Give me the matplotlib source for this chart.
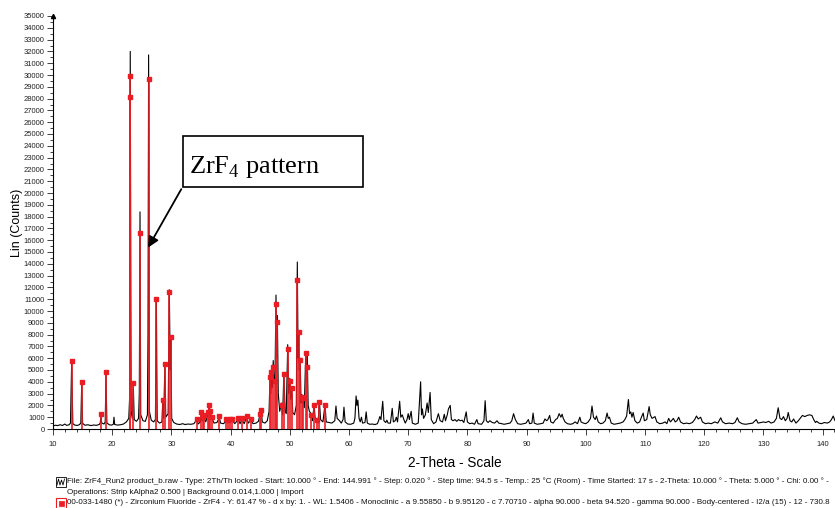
import matplotlib
matplotlib.use('Agg')
import matplotlib.pyplot as plt
from matplotlib.patches import Rectangle
from matplotlib.ticker import MultipleLocator
import numpy as np

plt.rcParams['font.family'] = ['Liberation Sans', 'DejaVu Sans']
plt.rcParams['mathtext.fontset'] = 'custom'
plt.rcParams['mathtext.rm'] = 'Liberation Serif'

trace = np.array([
    [10.0, 260], [10.4, 320], [10.8, 290], [11.2, 360], [11.6, 300], [12.0, 420],
    [12.3, 310], [12.7, 350], [12.95, 500], [13.15, 5600], [13.35, 450], [13.7, 330],
    [14.1, 300], [14.5, 380], [14.7, 520], [14.85, 3850], [15.0, 480], [15.4, 320],
    [15.9, 360], [16.4, 290], [16.9, 340], [17.3, 310], [17.8, 380], [17.98, 500],
    [18.1, 1200], [18.22, 520], [18.6, 420], [18.82, 600], [18.95, 4700], [19.1, 520],
    [19.5, 360], [19.9, 330], [20.2, 400], [20.3, 1000], [20.42, 380], [20.9, 330],
    [21.4, 360], [21.9, 420], [22.4, 600], [22.8, 900], [22.93, 2500], [23.05, 32000],
    [23.2, 1500], [23.4, 900], [23.57, 3600], [23.72, 800], [24.1, 650], [24.45, 900],
    [24.58, 3000], [24.7, 18400], [24.82, 1200], [25.2, 700], [25.6, 650], [25.95, 1200],
    [26.05, 8000], [26.15, 31700], [26.28, 1500], [26.6, 750], [27.0, 600], [27.3, 800],
    [27.46, 11100], [27.6, 700], [28.0, 500], [28.4, 600], [28.55, 2500], [28.7, 900],
    [28.9, 5500], [29.05, 1000], [29.45, 1300], [29.65, 11800], [29.8, 5000], [29.9, 7800],
    [30.05, 900], [30.4, 550], [30.9, 420], [31.4, 380], [31.9, 450], [32.3, 380],
    [32.8, 420], [33.3, 400], [33.8, 450], [34.3, 800], [34.5, 420], [34.9, 600],
    [35.05, 1300], [35.2, 700], [35.5, 1000], [35.8, 600], [36.2, 1300], [36.4, 1900],
    [36.6, 1400], [36.85, 900], [37.2, 500], [37.7, 550], [38.1, 1000], [38.3, 500],
    [38.8, 450], [39.3, 700], [39.6, 750], [39.9, 700], [40.3, 750], [40.7, 450],
    [41.3, 800], [41.6, 450], [41.9, 800], [42.3, 450], [42.7, 1000], [43.0, 500],
    [43.4, 750], [43.8, 450], [44.3, 500], [44.7, 650], [45.0, 1300], [45.15, 1700],
    [45.35, 600], [45.8, 500], [46.2, 700], [46.5, 1500], [46.66, 4500], [46.8, 3000],
    [46.9, 5000], [47.05, 3500], [47.2, 5800], [47.35, 4000], [47.5, 4200], [47.67, 11350],
    [47.8, 6000], [47.9, 9600], [48.05, 3000], [48.3, 1500], [48.6, 2200], [48.8, 1200],
    [49.0, 4800], [49.2, 1500], [49.4, 1300], [49.65, 7150], [49.8, 3000], [50.0, 4300],
    [50.15, 2500], [50.3, 3600], [50.5, 1400], [50.8, 1200], [51.1, 2000], [51.27, 14150],
    [51.4, 6000], [51.5, 8300], [51.6, 5000], [51.75, 6000], [51.9, 2200], [52.05, 2900],
    [52.25, 2700], [52.45, 1800], [52.7, 6500], [52.82, 4000], [52.95, 6300], [53.1, 2000],
    [53.3, 1500], [53.6, 1300], [53.85, 700], [54.1, 2100], [54.3, 800], [54.6, 900],
    [54.8, 700], [55.0, 2400], [55.2, 800], [55.6, 600], [55.95, 2100], [56.15, 600],
    [56.6, 550], [57.1, 500], [57.6, 700], [57.8, 1950], [58.0, 900], [58.4, 700],
    [58.7, 500], [59.0, 800], [59.15, 1850], [59.35, 600], [59.8, 420], [60.3, 400],
    [60.8, 500], [61.0, 900], [61.2, 2800], [61.35, 2000], [61.5, 2450], [61.7, 900],
    [61.9, 600], [62.1, 1000], [62.3, 500], [62.7, 550], [62.9, 1450], [63.1, 500],
    [63.5, 400], [63.9, 420], [64.4, 380], [64.8, 450], [65.0, 700], [65.2, 1050],
    [65.4, 800], [65.7, 2350], [65.9, 700], [66.2, 550], [66.4, 750], [66.6, 500],
    [67.0, 500], [67.3, 1750], [67.5, 600], [67.8, 700], [68.0, 1000], [68.2, 600],
    [68.56, 2350], [68.75, 1000], [69.0, 1200], [69.2, 900], [69.5, 500], [69.8, 800],
    [70.0, 1300], [70.2, 800], [70.5, 1500], [70.7, 500], [71.2, 400], [71.7, 500],
    [72.1, 4000], [72.25, 1200], [72.4, 1700], [72.6, 900], [72.9, 1200], [73.2, 2200],
    [73.4, 1400], [73.7, 3100], [73.9, 800], [74.3, 450], [74.7, 600], [75.1, 1300],
    [75.4, 700], [75.8, 600], [76.1, 1250], [76.3, 700], [76.6, 1200], [76.8, 1700],
    [77.1, 2000], [77.3, 800], [77.6, 700], [77.9, 800], [78.2, 650], [78.5, 800],
    [78.8, 700], [79.1, 750], [79.4, 550], [79.8, 1450], [80.0, 600], [80.4, 450],
    [80.8, 500], [81.2, 400], [81.6, 800], [81.8, 450], [82.4, 400], [82.8, 700],
    [83.0, 2400], [83.2, 700], [83.5, 550], [83.8, 700], [84.2, 550], [84.6, 500],
    [85.0, 700], [85.3, 500], [85.8, 450], [86.2, 400], [86.7, 450], [87.2, 500],
    [87.5, 700], [87.8, 1300], [88.1, 800], [88.5, 450], [89.0, 400], [89.5, 450],
    [89.9, 500], [90.3, 800], [90.5, 450], [90.9, 500], [91.1, 1350], [91.3, 500],
    [91.8, 400], [92.4, 450], [92.8, 500], [93.1, 850], [93.4, 700], [93.6, 800],
    [93.9, 1150], [94.1, 600], [94.5, 500], [94.9, 800], [95.2, 900], [95.5, 1300],
    [95.8, 1000], [96.0, 1250], [96.2, 900], [96.5, 600], [96.9, 450], [97.4, 400],
    [97.8, 450], [98.2, 600], [98.6, 450], [99.0, 1000], [99.2, 600], [99.6, 500],
    [100.0, 450], [100.4, 600], [100.8, 900], [101.05, 1950], [101.3, 1000], [101.6, 800],
    [101.8, 1100], [102.1, 600], [102.5, 450], [102.9, 500], [103.3, 700], [103.6, 1350],
    [103.8, 900], [104.0, 1000], [104.3, 500], [104.8, 400], [105.3, 450], [105.8, 500],
    [106.3, 600], [106.6, 800], [106.9, 1100], [107.2, 2500], [107.4, 1300], [107.6, 1450],
    [107.8, 1000], [108.0, 1400], [108.3, 700], [108.7, 500], [109.1, 600], [109.4, 1000],
    [109.7, 1350], [109.9, 700], [110.3, 800], [110.7, 1900], [110.9, 1200], [111.2, 900],
    [111.7, 1050], [112.0, 600], [112.5, 450], [113.0, 500], [113.4, 600], [113.7, 450],
    [114.0, 900], [114.3, 600], [114.8, 900], [115.1, 600], [115.4, 700], [115.7, 1000],
    [116.0, 600], [116.5, 450], [117.0, 500], [117.5, 450], [118.0, 550], [118.4, 800],
    [118.7, 1100], [119.0, 850], [119.4, 1000], [119.7, 600], [120.2, 450], [120.7, 500],
    [121.2, 450], [121.8, 600], [122.3, 500], [122.8, 950], [123.1, 600], [123.6, 450],
    [124.2, 500], [124.8, 450], [125.2, 550], [125.6, 950], [125.9, 600], [126.4, 450],
    [127.0, 400], [127.6, 450], [128.2, 500], [128.8, 800], [129.1, 500], [129.6, 550],
    [130.0, 600], [130.4, 550], [130.9, 650], [131.3, 500], [131.8, 600], [132.2, 900],
    [132.5, 1800], [132.8, 900], [133.1, 800], [133.4, 1050], [133.7, 700], [134.0, 900],
    [134.2, 1400], [134.5, 700], [134.8, 600], [135.1, 850], [135.5, 500], [135.9, 700],
    [136.3, 950], [136.6, 1150], [137.0, 1050], [137.4, 1150], [137.8, 1200], [138.2, 1150],
    [138.5, 800], [138.8, 550], [139.0, 650], [139.4, 500], [139.8, 450], [140.3, 550],
    [140.8, 500], [141.2, 600], [141.5, 800], [141.8, 1100], [142.1, 700], [142.5, 500],
])
two_theta = trace[:, 0]
counts = trace[:, 1]

# ZrF4 reference sticks (00-033-1480)
ref_pos = [13.15, 14.85, 18.1, 18.95, 23.05, 23.05, 23.57, 24.7, 26.15, 27.46,
           28.55, 28.9, 29.65, 29.9, 34.3, 35.05, 35.3, 35.5, 36.2, 36.4,
           36.6, 36.8, 38.1, 39.3, 39.6, 39.9, 40.3, 41.3, 41.9, 42.7,
           43.4, 45.0, 45.15, 46.66, 46.9, 47.2, 47.5, 47.67, 47.9, 48.6,
           49.0, 49.65, 50.0, 50.3, 51.27, 51.5, 51.75, 52.05, 52.25, 52.7,
           52.95, 53.6, 54.1, 54.6, 55.0, 55.95]
ref_int = [5750, 3950, 1250, 4800, 29900, 28150, 3900, 16650, 29650, 11050,
           2500, 5550, 11650, 7800, 850, 1400, 1050, 1150, 1450, 2000,
           1500, 1050, 1100, 850, 800, 850, 850, 900, 900, 1100,
           850, 1300, 1650, 4380, 4800, 5230, 4100, 10560, 9070, 2030,
           4630, 6750, 4090, 3500, 12600, 8190, 5850, 2740, 2600, 6470,
           5230, 1190, 2030, 790, 2320, 2030]

info_lines = [
    'File: ZrF4_Run2 product_b.raw - Type: 2Th/Th locked - Start: 10.000 \u00b0 - End: 144.991 \u00b0 - '
    'Step: 0.020 \u00b0 - Step time: 94.5 s - Temp.: 25 \u00b0C (Room) - Time Started: 17 s - '
    '2-Theta: 10.000 \u00b0 - Theta: 5.000 \u00b0 - Chi: 0.00 \u00b0 -',
    'Operations: Strip kAlpha2 0.500 | Background 0.014,1.000 | Import',
    '00-033-1480 (*) - Zirconium Fluoride - ZrF4 - Y: 61.47 % - d x by: 1. - WL: 1.5406 - '
    'Monoclinic - a 9.55850 - b 9.95120 - c 7.70710 - alpha 90.000 - beta 94.520 - '
    'gamma 90.000 - Body-centered - I2/a (15) - 12 - 730.8',
]

W, H = 835, 508
fig = plt.figure(figsize=(W / 100, H / 100), dpi=100)
ax = fig.add_axes([53 / W, 79 / H, 1 - 53 / W, 413 / H])

red = '#ea1c24'
ax.plot(two_theta, counts, color='black', lw=0.8, zorder=2)
ax.vlines(ref_pos, 0, ref_int, color=red, lw=1.2, zorder=3)
ax.plot(ref_pos, ref_int, 's', color=red, ms=3, zorder=4, lw=0)

ax.set_xlim(10, 142.1)
ax.set_ylim(0, 35000)
ax.xaxis.set_major_locator(MultipleLocator(10))
ax.xaxis.set_minor_locator(MultipleLocator(2))
ax.yaxis.set_major_locator(MultipleLocator(1000))
ax.yaxis.set_minor_locator(MultipleLocator(500))
ax.tick_params(which='both', direction='out', width=0.6, colors='#222222', labelsize=5.5)
ax.tick_params(which='major', length=4.5)
ax.tick_params(which='minor', length=2.5)
ax.tick_params(axis='y', pad=1.5)
ax.tick_params(axis='x', pad=4)
for s in ['top', 'right']:
    ax.spines[s].set_visible(False)
for s in ['left', 'bottom']:
    ax.spines[s].set_linewidth(0.8)
ax.plot(0, 1, marker='^', color='black', ms=3, transform=ax.transAxes, clip_on=False)

ax.set_ylabel('Lin (Counts)', fontsize=9, labelpad=0.5)
fig.text(455 / W, 1 - 463 / H, '2-Theta - Scale', fontsize=9.8, ha='center', va='center')

# annotation box with arrow
ax.add_patch(Rectangle((31.9, 20530), 30.5, 4330, fill=False, ec='black', lw=1.2, zorder=5))
ax.text(33.0, 21700, r'ZrF$_\mathrm{4}$ pattern', family='Liberation Serif', fontsize=19,
        va='baseline', zorder=6)
ax.annotate('', xy=(25.83, 15170), xytext=(31.9, 20530),
            arrowprops=dict(arrowstyle='-|>', color='black', lw=1.3, mutation_scale=16),
            zorder=6)

# legend lines at the bottom
ys = [481, 492, 503]
for y, line in zip(ys, info_lines):
    fig.text(67 / W, 1 - y / H, line, fontsize=5.8, ha='left', va='center', color='#111111')

fig.add_artist(Rectangle((56 / W, 1 - 487 / H), 10 / W, 10 / H, fill=False, ec='black',
                         lw=0.6, transform=fig.transFigure))
fig.add_artist(plt.Line2D(np.array([57, 58.5, 60, 61.5, 63, 64.5]) / W,
                          1 - np.array([485, 479, 485, 480, 485, 479]) / H,
                          color='black', lw=0.6, transform=fig.transFigure))
fig.add_artist(Rectangle((56 / W, 1 - 508 / H), 10 / W, 10 / H, fill=False, ec=red,
                         lw=0.8, transform=fig.transFigure))
fig.add_artist(Rectangle((58.5 / W, 1 - 505.5 / H), 5 / W, 5 / H, fc=red, ec=red,
                         lw=0.5, transform=fig.transFigure))

fig.savefig('out.png', dpi=100)
